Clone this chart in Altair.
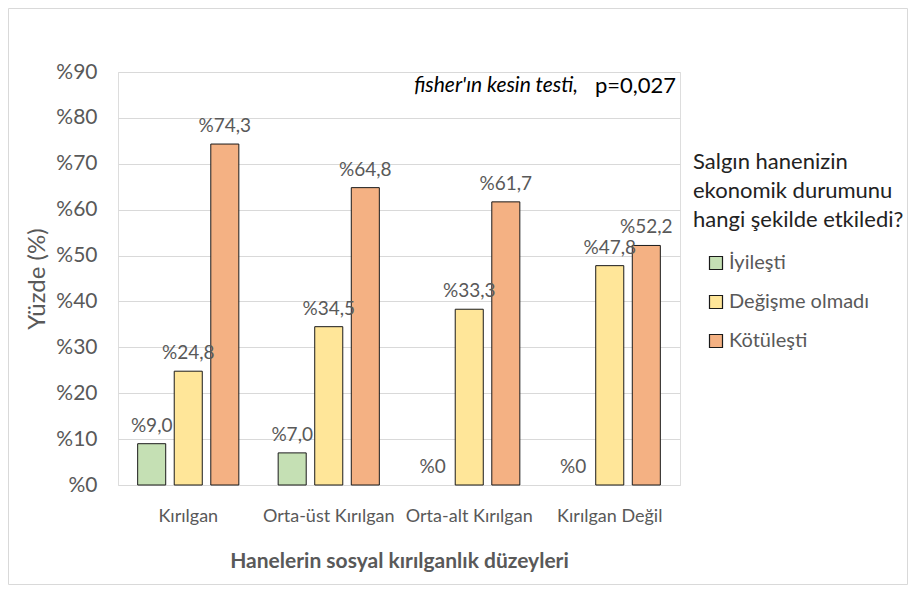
import altair as alt
import pandas as pd

categories = ["Kırılgan", "Orta-üst Kırılgan", "Orta-alt Kırılgan", "Kırılgan Değil"]
series = ["İyileşti", "Değişme olmadı", "Kötüleşti"]
iyilesti = [9.0, 7.0, 0.0, 0.0]
degisme_olmadi = [24.8, 34.5, 38.3, 47.8]
kotulesti = [74.3, 64.8, 61.7, 52.2]
iyilesti_labels = ["%9,0", "%7,0", "%0", "%0"]
degisme_labels = ["%24,8", "%34,5", "%33,3", "%47,8"]
kotulesti_labels = ["%74,3", "%64,8", "%61,7", "%52,2"]
colors = ["#C5E0B4", "#FFE699", "#F4B183"]
y_ticks = [0, 10, 20, 30, 40, 50, 60, 70, 80, 90]
legend_title = "Salgın hanenizin\nekonomik durumunu\nhangi şekilde etkiledi?"
note_italic = "fisher'ın kesin testi,"
note_plain = "p=0,027"

FONT = "Lato"
W, H = 562, 413
PL, PT, PR, PB = 110, 64, 228, 100

rows = []
for s, vals, labs in zip(series, [iyilesti, degisme_olmadi, kotulesti],
                         [iyilesti_labels, degisme_labels, kotulesti_labels]):
    for c, v, l in zip(categories, vals, labs):
        rows.append({"kategori": c, "seri": s, "deger": v, "etiket": l})
df = pd.DataFrame(rows)

x_enc = alt.X("kategori:N", sort=categories,
              scale=alt.Scale(paddingInner=0.28, paddingOuter=0.14),
              axis=alt.Axis(title="Hanelerin sosyal kırılganlık düzeyleri",
                            labelAngle=0, domain=False, ticks=False,
                            labelFontSize=18, labelColor="#595959", labelFont=FONT,
                            labelPadding=22, titleFont=FONT, titleFontSize=21,
                            titleFontWeight="bold", titleColor="#595959",
                            titleX=W / 2, titleY=76, titleBaseline="middle"))
xoff = alt.XOffset("seri:N", sort=series,
                   scale=alt.Scale(domain=series, paddingInner=0.233, paddingOuter=0))
y_enc = alt.Y("deger:Q", scale=alt.Scale(domain=[0, 90], nice=False),
              axis=alt.Axis(values=y_ticks, labelExpr="'%' + datum.value",
                            domain=False, ticks=False, gridColor="#d9d9d9",
                            labelFontSize=21, labelColor="#595959", labelFont=FONT,
                            labelPadding=21, title="Yüzde (%)", titleFont=FONT,
                            titleFontSize=24, titleFontWeight="normal",
                            titleColor="#595959", titleX=-81, titleY=H / 2,
                            titleAngle=-90, titleAlign="center",
                            titleBaseline="middle"))

base = alt.Chart(df)

bars = base.mark_bar(stroke="#1a1a1a", strokeWidth=1).encode(
    x=x_enc, xOffset=xoff, y=y_enc,
    color=alt.Color("seri:N", sort=series,
                    scale=alt.Scale(domain=series, range=colors),
                    legend=alt.Legend(title=None, orient="none",
                                      legendX=588, legendY=181,
                                      labelFont=FONT, labelFontSize=20,
                                      labelColor="#595959", symbolType="square",
                                      symbolSize=169, symbolStrokeColor="#1a1a1a",
                                      symbolStrokeWidth=1.2, symbolOpacity=1,
                                      rowPadding=19, labelOffset=3)),
).transform_filter("datum.deger > 0")

labels = base.mark_text(baseline="alphabetic", dy=-12, fontSize=19, font=FONT,
                        color="#595959").encode(
    x=alt.X("kategori:N", sort=categories), xOffset=xoff,
    y=alt.Y("deger:Q"), text="etiket:N")

one = pd.DataFrame({"a": [0]})
note1 = alt.Chart(one).mark_text(align="right", baseline="middle", fontSize=21,
                                 font=FONT, fontStyle="italic", color="#000000").encode(
    x=alt.value(460), y=alt.value(14), text=alt.value(note_italic))
note2 = alt.Chart(one).mark_text(align="right", baseline="middle", fontSize=22,
                                 font=FONT, color="#000000").encode(
    x=alt.value(558), y=alt.value(14), text=alt.value(note_plain))

legend_head = alt.Chart(one).mark_text(align="left", baseline="middle", fontSize=22,
                                       font=FONT, color="#222222", lineBreak="\n",
                                       lineHeight=29).encode(
    x=alt.value(575), y=alt.value(90), text=alt.value(legend_title))

border = alt.Chart(one).mark_rect(fill="white", fillOpacity=0, stroke="#d9d9d9",
                                  strokeWidth=1).encode(
    x=alt.value(-PL + 0.5), x2=alt.value(W + PR - 0.5),
    y=alt.value(-PT + 0.5), y2=alt.value(H + PB - 0.5))

chart = alt.layer(border, bars, labels, note1, note2, legend_head).properties(
    width=W, height=H,
    autosize=alt.AutoSizeParams(type="none"),
    padding={"left": PL, "top": PT, "right": PR, "bottom": PB},
).configure_view(stroke=None).configure(background="white")

chart.save("out.html", embed_options={"renderer": "svg", "actions": False})
